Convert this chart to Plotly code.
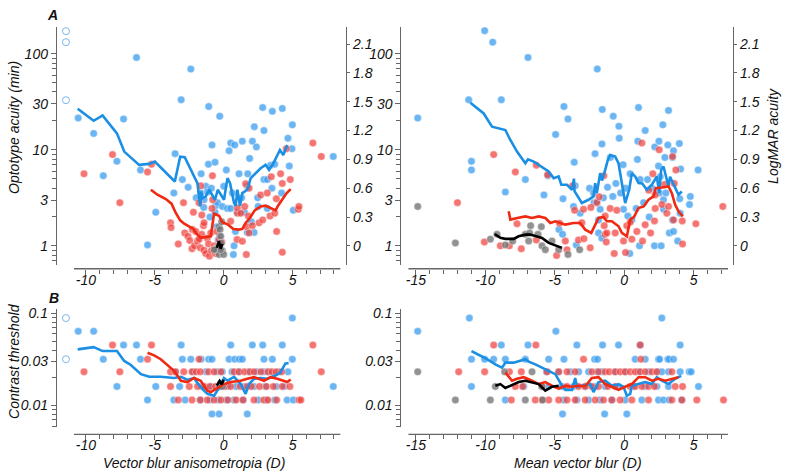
import plotly.graph_objects as go

W, H = 785, 476

# ---------------- data ----------------
# top panels: (blur D, logMAR) ; acuity (min) = 10**logMAR
tl_blue = [(-10.56, 1.33), (-9.44, 1.17), (-8.74, 0.73), (-7.75, 0.88), (-7.27, 1.32), (-6.33, 1.96),
           (-6.04, 0.79), (-5.53, 0.01), (-4.93, 0.35), (-3.62, 0.55), (-3.53, 0.96), (-3.09, 1.52),
           (-3.0, 0.69), (-2.58, 0.61), (-2.39, 1.84), (-2.0, 0.50), (-1.64, 0.75), (-1.67, 0.55),
           (-1.43, 0.48), (-1.45, 0.40), (-1.3, 0.62), (-1.18, 0.56), (-1.11, 0.85), (-1.09, 1.45),
           (-1.0, 0.30), (-0.9, 0.60), (-0.85, 1.05), (-0.63, 0.87), (-0.63, 0.35), (-0.58, 0.42),
           (-0.45, 0.45), (-0.5, 0.20), (-0.4, 0.06), (-0.3, 0.10), (-0.29, 1.35), (-0.1, 0.41),
           (0.0, 0.62), (0.19, 0.79), (0.27, 0.39), (0.39, 0.99), (0.51, 1.07), (0.51, 0.39),
           (0.63, 0.55), (0.7, -0.09), (0.75, 0.0), (0.8, 1.05), (0.85, 0.15), (1.0, 0.35),
           (1.11, 0.75), (1.3, 0.50), (1.35, 1.09), (1.5, 0.35), (1.71, 0.62), (1.71, 0.14),
           (1.74, 0.75), (1.88, 0.91), (2.0, 0.25), (2.08, 1.09), (2.2, 0.14), (2.22, 1.24),
           (2.37, 1.03), (2.46, 0.50), (2.5, 0.41), (2.83, 1.44), (2.92, 1.20), (2.92, 0.69),
           (3.16, 0.69), (3.16, 0.39), (3.41, 0.84), (3.5, 0.60), (3.53, 1.40), (3.7, 0.85),
           (4.2, 0.55), (4.25, 1.43), (4.66, 1.12), (4.76, 0.83), (4.95, 1.01), (4.98, 1.26),
           (5.05, 0.37), (7.95, 0.93)]
tl_red = [(-10.14, 0.75), (-8.07, 0.95), (-7.54, 0.45), (-5.53, 0.77), (-5.24, 0.85), (-3.86, 0.24),
          (-3.82, 0.19), (-3.3, 0.02), (-2.92, 0.45), (-2.83, 0.135), (-2.6, 0.10), (-2.46, 0.055),
          (-2.3, -0.03), (-2.27, 0.17), (-2.2, 0.35), (-2.12, 0.0), (-2.03, 0.15), (-1.9, 0.05),
          (-1.79, 0.45), (-1.79, 0.07), (-1.7, -0.02), (-1.67, 0.625), (-1.6, 0.12), (-1.59, 0.32),
          (-1.47, 0.21), (-1.43, 0.24), (-1.43, -0.045), (-1.3, -0.08), (-1.2, 0.08), (-1.1, 0.02),
          (-1.04, -0.107), (-0.94, 0.135), (-0.9, -0.05), (-0.85, 0.39), (-0.82, 0.73), (-0.8, 0.48),
          (-0.7, 0.0), (-0.6, -0.08), (-0.5, 0.15), (-0.46, -0.04), (-0.34, 0.066), (-0.14, 0.04),
          (0.5, 0.256), (0.99, 0.34), (0.99, 0.394), (0.97, 0.066), (1.23, 0.34), (1.35, 0.048),
          (1.52, 0.41), (1.59, 0.646), (1.64, -0.09), (1.67, 0.20), (1.79, 0.31), (1.84, 0.60),
          (1.84, 0.135), (2.08, 0.21), (2.56, 0.24), (2.68, 0.53), (2.83, 0.27), (3.16, 0.55),
          (3.36, 0.31), (3.45, 0.72), (3.7, 0.34), (3.82, 0.49), (3.84, 0.15), (4.13, 0.75),
          (4.25, 0.65), (4.25, -0.066), (4.54, 1.01), (4.83, 0.69), (5.41, 0.38), (5.46, 0.41),
          (6.47, 1.07), (7.08, 0.93)]
tl_gray = [(-0.34, 0.20), (-0.27, 0.17), (-0.22, 0.10), (-0.17, 0.03), (-0.1, -0.05), (-0.46, -0.02),
           (-0.58, -0.04), (-0.34, -0.09), (0.0, -0.09), (-0.22, -0.04), (-0.7, -0.04), (-0.15, 0.25)]
tl_open = [(-11.45, 2.235), (-11.45, 2.12), (-11.45, 1.516)]

tl_blue_line = [(-10.6, 1.427), (-9.44, 1.302), (-8.79, 1.358), (-7.75, 1.171), (-7.22, 0.981),
                (-6.14, 0.843), (-5.41, 0.853), (-5.0, 0.877), (-3.55, 0.670), (-3.16, 0.929),
                (-2.83, 0.922), (-2.1, 0.705), (-1.91, 0.653), (-1.71, 0.411), (-1.64, 0.566),
                (-1.52, 0.497), (-1.3, 0.515), (-1.06, 0.584), (-0.7, 0.497), (-0.63, 0.48),
                (-0.43, 0.584), (0.02, 0.48), (0.27, 0.705), (0.46, 0.653), (0.75, 0.446),
                (0.87, 0.418), (0.99, 0.584), (1.18, 0.418), (1.35, 0.549), (1.71, 0.584),
                (1.96, 0.705), (2.32, 0.757), (2.68, 0.808), (3.04, 0.843), (3.29, 0.791),
                (3.6, 0.86), (4.08, 0.998), (4.32, 0.946), (4.61, 1.05)]
tl_red_line = [(-5.29, 0.584), (-4.81, 0.532), (-4.2, 0.487), (-3.79, 0.439), (-3.48, 0.342),
               (-3.16, 0.266), (-2.87, 0.231), (-2.58, 0.204), (-2.2, 0.176), (-1.96, 0.124),
               (-1.67, 0.083), (-0.94, 0.10), (-0.7, 0.335), (-0.34, 0.314), (-0.1, 0.245),
               (0.31, 0.221), (0.7, 0.176), (1.11, 0.169), (1.35, 0.176), (1.59, 0.238),
               (1.9, 0.29), (2.25, 0.37), (2.68, 0.411), (3.04, 0.418), (3.4, 0.394),
               (3.77, 0.37), (3.94, 0.418), (4.25, 0.487), (4.57, 0.549), (4.86, 0.591)]
tl_black_line = [(-0.5, -0.02), (-0.35, 0.05), (-0.22, -0.03), (-0.1, 0.02)]

tr_blue = [(-14.87, 1.33), (-11.2, 1.52), (-11.0, 0.88), (-11.0, 0.79), (-10.05, 2.24), (-9.47, 2.12),
           (-8.85, 1.52), (-8.56, 0.56), (-7.12, 0.69), (-6.93, 1.96), (-5.78, 0.53), (-5.49, 0.73),
           (-4.94, 1.16), (-4.7, 0.17), (-4.44, 0.12), (-4.41, 0.49), (-4.34, 1.45), (-4.05, 1.32),
           (-3.65, 0.41), (-3.6, 0.87), (-3.53, 0.625), (-3.45, 0.01), (-3.17, 0.34), (-2.5, 0.60),
           (-2.21, 0.55), (-2.18, 0.45), (-2.1, 0.96), (-1.97, 0.46), (-1.94, 1.84), (-1.85, 0.27),
           (-1.85, 0.135), (-1.73, 0.38), (-1.6, 1.06), (-1.61, 0.08), (-1.58, 1.42), (-1.5, 0.50),
           (-1.2, 0.61), (-1.0, 0.92), (-0.82, 0.515), (-0.79, 1.35), (-0.6, 0.65), (-0.38, 1.245),
           (-0.36, 1.12), (-0.26, 0.55), (-0.08, 0.845), (-0.05, 0.38), (0.1, 0.60), (0.26, 0.31),
           (0.4, -0.08), (0.43, 0.75), (0.55, 0.27), (0.86, 0.39), (0.95, 0.90), (0.98, 1.09),
           (1.03, 1.44), (1.1, 0.0), (1.15, 0.69), (1.4, 0.45), (1.51, 1.2), (1.68, 0.69),
           (1.8, 0.30), (2.0, 0.60), (2.2, 1.03), (2.18, 0.0), (2.5, 1.09), (2.47, 0.83),
           (2.54, 0.55), (2.59, 0.72), (2.66, 0.0), (2.78, 1.26), (2.83, 0.48), (2.83, 0.38),
           (2.93, 0.92), (3.0, 0.55), (3.14, 1.05), (3.19, 1.41), (3.25, 0.135), (3.48, 0.92),
           (3.48, 0.27), (3.55, 0.99), (3.55, 0.15), (3.85, 0.05), (3.97, 1.065), (4.0, 0.49),
           (4.03, 0.34), (4.06, 0.80), (4.7, 0.43), (4.76, 0.515), (5.32, 0.79)]
tr_red = [(-12.01, 0.45), (-10.07, 0.04), (-9.4, 0.95), (-8.92, 0.0), (-8.27, 0.0), (-7.84, 0.77),
          (-7.72, 0.23), (-7.41, -0.03), (-6.33, 0.84), (-6.33, 0.06), (-5.52, 0.74), (-4.87, -0.10),
          (-4.66, 0.235), (-4.24, 0.05), (-4.12, -0.04), (-3.72, 0.625), (-3.57, 0.37), (-3.29, 0.06),
          (-3.05, 0.24), (-2.93, 0.38), (-2.9, 0.075), (-2.45, -0.02), (-2.4, 0.40), (-1.97, 0.45),
          (-1.8, 0.51), (-1.47, 0.73), (-1.44, 0.21), (-1.37, 0.31), (-1.37, 0.12), (-1.29, 0.04),
          (-1.25, 0.135), (-1.01, 0.39), (-0.72, -0.08), (-0.65, 0.135), (-0.53, 0.37), (-0.05, 0.05),
          (0.1, -0.07), (0.19, 0.21), (0.43, 0.245), (0.55, 0.07), (0.91, 0.15), (1.27, 1.07),
          (1.32, 0.05), (1.51, 0.22), (1.77, 0.58), (1.9, 0.135), (2.06, 0.75), (2.18, 0.26),
          (2.23, 0.39), (2.23, 0.53), (2.52, 1.0), (2.71, 0.43), (2.9, 0.64), (3.07, 0.34),
          (3.19, 0.41), (3.48, 0.93), (3.55, 0.27), (3.6, 0.65), (3.72, 0.79), (4.18, 0.26),
          (4.2, 0.02), (5.16, 0.23), (7.1, 0.41)]
tr_gray = [(-14.87, 0.41), (-12.16, 0.03), (-9.64, 0.07), (-9.16, 0.12), (-8.56, 0.01), (-8.03, 0.05),
           (-7.12, 0.12), (-6.81, 0.135), (-6.74, 0.21), (-6.88, 0.05), (-6.21, 0.12), (-5.97, 0.20),
           (-5.92, 0.0), (-5.68, -0.04), (-5.2, 0.05), (-4.72, -0.04), (-4.05, -0.09), (-3.21, -0.04)]

tr_blue_line = [(-11.08, 1.489), (-10.12, 1.378), (-9.52, 1.24), (-9.04, 1.223), (-8.56, 1.206),
                (-8.2, 1.102), (-7.72, 0.981), (-7.12, 0.86), (-6.93, 0.901), (-6.52, 0.877),
                (-5.97, 0.826), (-5.44, 0.774), (-5.08, 0.705), (-4.72, 0.722), (-4.53, 0.636),
                (-4.12, 0.636), (-3.76, 0.584), (-3.62, 0.70), (-3.58, 0.57), (-3.41, 0.532),
                (-3.05, 0.446), (-2.57, 0.48), (-2.21, 0.515), (-2.09, 0.653), (-1.97, 0.55),
                (-1.73, 0.757), (-1.6, 0.68), (-1.37, 0.791), (-1.18, 0.895), (-1.01, 0.946),
                (-0.65, 0.929), (-0.41, 0.86), (-0.17, 0.653), (0.07, 0.446), (0.36, 0.584),
                (0.55, 0.757), (0.8, 0.72), (1.03, 0.653), (1.3, 0.65), (1.63, 0.584),
                (1.99, 0.636), (2.35, 0.722), (2.52, 0.549), (2.66, 0.791), (2.83, 0.826),
                (3.0, 0.72), (3.19, 0.618), (3.3, 0.72), (3.55, 0.64), (3.91, 0.532), (4.15, 0.566)]
tr_red_line = [(-8.32, 0.359), (-8.2, 0.273), (-7.7, 0.29), (-7.12, 0.307), (-6.64, 0.29),
               (-6.16, 0.307), (-5.68, 0.29), (-5.32, 0.238), (-4.96, 0.256), (-4.24, 0.221),
               (-3.65, 0.238), (-3.17, 0.238), (-2.81, 0.169), (-2.37, 0.135), (-1.85, 0.29),
               (-1.5, 0.30), (-1.25, 0.256), (-0.89, 0.256), (-0.41, 0.204), (-0.17, 0.135),
               (0.19, 0.10), (0.43, 0.273), (0.7, 0.30), (1.03, 0.394), (1.4, 0.41),
               (1.75, 0.48), (2.11, 0.515), (2.28, 0.601), (2.71, 0.608), (3.19, 0.618),
               (3.43, 0.549), (3.67, 0.428), (3.91, 0.359), (4.22, 0.307)]
tr_black_line = [(-9.33, 0.124), (-8.92, 0.083), (-8.56, 0.073), (-7.96, 0.073), (-7.6, 0.10),
                 (-7.12, 0.117), (-6.76, 0.117), (-6.28, 0.10), (-5.92, 0.083), (-5.44, 0.031),
                 (-5.08, 0.014), (-4.72, -0.003), (-4.48, -0.021)]

# bottom panels: contrast threshold levels and blur values at each level
bl_blue_rows = [(0.089, [4.98]),
                (0.064, [-10.56, -9.44]),
                (0.0453, [-7.27, -6.33, -3.09, 0.51, 2.08, 2.83, 4.25]),
                (0.0318, [-8.74, -6.04, -3.0, -2.39, -1.64, -1.09, -0.85, 0.39, 0.8, 1.14, 1.35, 2.92, 3.53, 4.98]),
                (0.0232, [-3.5, -2.2, -1.3, -0.5, -0.1, 0.6, 1.1, 1.8, 2.4, 2.9, 3.3, 4.0, 4.66]),
                (0.0161, [-7.75, -4.93, -3.2, -1.6, -0.9, -0.3, 0.3, 0.9, 1.5, 2.2, 3.0, 3.8, 4.4, 7.95]),
                (0.0115, [-5.53, -3.62, -2.8, -1.7, -1.0, -0.4, 0.2, 0.75, 1.4, 2.5, 3.1, 3.7, 4.6, 5.05]),
                (0.0081, [-0.85, -0.34, 1.71])]
bl_red_rows = [(0.0453, [-8.07, -5.24, 6.47]),
               (0.0318, [-5.53, -1.79]),
               (0.0232, [-10.14, -7.54, -3.86, -3.5, -2.9, -2.3, -2.0, -1.7, -1.1, -0.7, -0.2, 0.75, 1.1,
                         1.5, 1.9, 2.2, 2.7, 3.2, 3.5, 3.8, 4.2, 7.08]),
               (0.0161, [-3.86, -2.5, -1.9, -1.4, -1.0, -0.6, 0.1, 0.5, 1.2, 1.7, 2.0, 2.6, 3.1, 3.6, 4.25, 4.8]),
               (0.0115, [-3.3, -2.3, -1.7, -1.2, -0.7, -0.2, 0.3, 0.9, 1.4, 2.2, 2.9, 3.2, 3.84, 5.46, 5.6])]
bl_gray_rows = [(0.0161, [-0.3, -0.1]), (0.0175, [-0.2])]
bl_open = [(-11.45, 0.089), (-11.45, 0.0318)]

bl_blue_line = [(-10.6, 0.0407), (-9.44, 0.043), (-8.79, 0.039), (-7.75, 0.039), (-7.22, 0.0305),
                (-6.74, 0.0276), (-6.01, 0.0219), (-5.41, 0.0205), (-4.57, 0.0205), (-3.6, 0.0199),
                (-3.11, 0.0205), (-2.6, 0.019), (-2.15, 0.0199), (-1.9, 0.0175), (-1.43, 0.0145),
                (-1.18, 0.0134), (-0.7, 0.0128), (-0.46, 0.0145), (-0.17, 0.0171), (0.02, 0.0199),
                (0.27, 0.0186), (0.75, 0.0205), (1.23, 0.0171), (1.59, 0.0134), (1.83, 0.0171),
                (2.2, 0.0195), (2.68, 0.0199), (3.16, 0.0195), (3.75, 0.0212), (4.11, 0.0228),
                (4.47, 0.0285), (4.71, 0.029)]
bl_red_line = [(-5.53, 0.0374), (-5.05, 0.035), (-4.57, 0.0318), (-3.96, 0.0269), (-3.6, 0.0238),
               (-3.11, 0.0186), (-2.63, 0.018), (-2.15, 0.0199), (-1.67, 0.0186), (-1.18, 0.0145),
               (-0.94, 0.014), (-0.46, 0.0155), (0.02, 0.0171), (0.51, 0.018), (1.23, 0.0186),
               (1.71, 0.0195), (2.2, 0.0203), (2.92, 0.0186), (3.4, 0.0203), (3.89, 0.0195),
               (4.25, 0.0186), (4.61, 0.018), (4.86, 0.0192)]
bl_black_line = [(-0.5, 0.0165), (-0.3, 0.0185), (-0.15, 0.017), (0.0, 0.019)]

br_blue_rows = [(0.089, [-11.15, 2.71]),
                (0.064, [-14.87, -4.92]),
                (0.0453, [-8.85, -6.93, -3.41, -1.56, -0.41, 1.15, 4.03]),
                (0.0318, [-11.0, -10.05, -9.4, -8.56, -7.12, -5.44, -4.34, -2.13, -1.92, 0.79, 1.51, 2.47,
                          2.55, 3.14, 3.22, 3.55]),
                (0.0232, [-5.6, -4.72, -3.88, -3.28, -2.56, -1.96, -1.6, -0.65, 0.07, 1.03, 1.75, 2.4,
                          2.71, 3.19, 4.03, 4.68, 4.82]),
                (0.0161, [-11.0, -7.24, -5.44, -4.48, -3.65, -2.81, -2.09, -1.37, -0.41, 0.67, 1.51, 2.35,
                          3.19, 5.35]),
                (0.0115, [-8.56, -4.36, -3.41, -2.57, -1.73, -0.89, 0.07, 1.27, 2.47, 2.83, 3.24, 4.15]),
                (0.0081, [-4.44, -1.41, 0.19])]
br_red_rows = [(0.0453, [-9.4, -6.36, 1.15]),
               (0.0318, [-2.93, 1.2]),
               (0.0232, [-11.92, -10.05, -8.27, -7.41, -5.56, -4.72, -4.12, -3.53, -2.33, -1.85, -1.37,
                         -1.08, -0.65, -0.29, 0.07, 0.43, 0.79, 1.15, 1.51, 1.99, 2.35, 3.43]),
               (0.0161, [-7.84, -7.31, -5.92, -4.12, -3.29, -2.81, -2.33, -1.85, -1.18, -0.65, 0.43, 0.79,
                         1.27, 1.75, 2.18, 3.67, 4.2]),
               (0.0115, [-8.13, -6.4, -5.92, -5.44, -4.72, -4.12, -3.53, -2.81, -2.09, -1.49, -0.89, -0.29,
                         0.55, 1.75, 3.43, 4.15, 5.23, 7.15])]
br_gray_rows = [(0.0232, [-14.87, -8.61, -6.64]),
                (0.0161, [-9.28, -5.92]),
                (0.0115, [-12.16, -9.64, -7.12, -5.88])]

br_blue_line = [(-11.0, 0.039), (-10.0, 0.0326), (-9.28, 0.028), (-8.8, 0.0258), (-8.56, 0.0292),
                (-7.96, 0.0292), (-7.12, 0.0318), (-6.88, 0.030), (-6.4, 0.028), (-5.92, 0.0258),
                (-5.44, 0.0242), (-4.96, 0.0219), (-4.48, 0.0164), (-4.24, 0.0148), (-3.76, 0.0148),
                (-3.53, 0.0199), (-3.4, 0.016), (-2.93, 0.0164), (-2.45, 0.0171), (-2.21, 0.014),
                (-1.85, 0.018), (-1.37, 0.0186), (-0.89, 0.0164), (-0.41, 0.017), (-0.05, 0.016),
                (0.19, 0.0128), (0.43, 0.0134), (0.55, 0.0164), (1.03, 0.0171), (1.51, 0.018),
                (1.99, 0.0171), (2.35, 0.0203), (2.71, 0.0186), (3.19, 0.0171), (3.67, 0.0195),
                (4.1, 0.021)]
br_red_line = [(-8.56, 0.0228), (-8.08, 0.0186), (-7.72, 0.0195), (-7.24, 0.0203), (-6.64, 0.0186),
               (-6.16, 0.0171), (-5.68, 0.018), (-5.2, 0.0164), (-4.72, 0.0153), (-4.24, 0.0164),
               (-3.76, 0.016), (-3.29, 0.0164), (-2.81, 0.0162), (-2.33, 0.0199), (-1.85, 0.0203),
               (-1.37, 0.0171), (-0.89, 0.016), (-0.41, 0.0148), (0.07, 0.016), (0.55, 0.0171),
               (1.03, 0.0203), (1.51, 0.0203), (1.99, 0.0186), (2.47, 0.0195), (2.95, 0.0186),
               (3.43, 0.0195), (3.91, 0.0203)]
br_black_line = [(-9.28, 0.0164), (-8.92, 0.0171), (-8.56, 0.0155), (-7.96, 0.0171), (-7.6, 0.018),
                 (-7.12, 0.0186), (-6.64, 0.018), (-6.16, 0.0171), (-5.68, 0.0145), (-5.2, 0.016),
                 (-4.72, 0.0164)]

# ---------------- styling ----------------
BLUE_PT = "rgba(66,160,240,0.78)"
RED_PT = "rgba(240,64,60,0.72)"
GRAY_PT = "rgba(115,115,115,0.78)"
BLUE_LN = "#1a8fe3"
RED_LN = "#f02a12"
AX = "#666666"
TXT = "#111111"
FONT = "Liberation Sans"


def px(x):
    return x / W


def py(y):
    return 1 - y / H


def unzip(pairs, logy=False):
    xs = [p[0] for p in pairs]
    ys = [10 ** p[1] if logy else p[1] for p in pairs]
    return xs, ys


def rows(rowlist):
    xs, ys = [], []
    for lev, vals in rowlist:
        xs += vals
        ys += [lev] * len(vals)
    return xs, ys


def dots(x, y, color, xa, ya):
    return go.Scatter(x=x, y=y, mode="markers", xaxis=xa, yaxis=ya, cliponaxis=False,
                      marker=dict(size=7.5, color=color, line=dict(width=0.6, color="rgba(255,255,255,0.7)")),
                      showlegend=False, hoverinfo="skip")


def line(x, y, color, xa, ya):
    return go.Scatter(x=x, y=y, mode="lines", xaxis=xa, yaxis=ya, cliponaxis=False,
                      line=dict(color=color, width=2.6), showlegend=False, hoverinfo="skip")


def opens(x, y, xa, ya):
    return go.Scatter(x=x, y=y, mode="markers", xaxis=xa, yaxis=ya, cliponaxis=False,
                      marker=dict(size=7, color="white", line=dict(width=1, color="#7ab8ee")),
                      showlegend=False, hoverinfo="skip")


fig = go.Figure()

# top-left
fig.add_trace(dots(*unzip(tl_blue, True), BLUE_PT, "x", "y"))
fig.add_trace(dots(*unzip(tl_red, True), RED_PT, "x", "y"))
fig.add_trace(dots(*unzip(tl_gray, True), GRAY_PT, "x", "y"))
fig.add_trace(opens(*unzip(tl_open, True), "x", "y"))
fig.add_trace(line(*unzip(tl_blue_line), BLUE_LN, "x", "y5"))
fig.add_trace(line(*unzip(tl_red_line), RED_LN, "x", "y5"))
fig.add_trace(line(*unzip(tl_black_line), "black", "x", "y5"))
# top-right
fig.add_trace(dots(*unzip(tr_blue, True), BLUE_PT, "x2", "y2"))
fig.add_trace(dots(*unzip(tr_red, True), RED_PT, "x2", "y2"))
fig.add_trace(dots(*unzip(tr_gray, True), GRAY_PT, "x2", "y2"))
fig.add_trace(line(*unzip(tr_blue_line), BLUE_LN, "x2", "y6"))
fig.add_trace(line(*unzip(tr_red_line), RED_LN, "x2", "y6"))
fig.add_trace(line(*unzip(tr_black_line), "black", "x2", "y6"))
# bottom-left
fig.add_trace(dots(*rows(bl_blue_rows), BLUE_PT, "x3", "y3"))
fig.add_trace(dots(*rows(bl_red_rows), RED_PT, "x3", "y3"))
fig.add_trace(dots(*rows(bl_gray_rows), GRAY_PT, "x3", "y3"))
fig.add_trace(opens(*unzip(bl_open), "x3", "y3"))
fig.add_trace(line(*unzip(bl_blue_line), BLUE_LN, "x3", "y3"))
fig.add_trace(line(*unzip(bl_red_line), RED_LN, "x3", "y3"))
fig.add_trace(line(*unzip(bl_black_line), "black", "x3", "y3"))
# bottom-right
fig.add_trace(dots(*rows(br_blue_rows), BLUE_PT, "x4", "y4"))
fig.add_trace(dots(*rows(br_red_rows), RED_PT, "x4", "y4"))
fig.add_trace(dots(*rows(br_gray_rows), GRAY_PT, "x4", "y4"))
fig.add_trace(line(*unzip(br_blue_line), BLUE_LN, "x4", "y4"))
fig.add_trace(line(*unzip(br_red_line), RED_LN, "x4", "y4"))
fig.add_trace(line(*unzip(br_black_line), "black", "x4", "y4"))

tickfont = dict(family=FONT, size=14, color=TXT, style="italic")


def xaxis(dom, rng, ypos, majors, minors):
    return dict(domain=[px(dom[0]), px(dom[1])], range=rng, anchor="free", position=py(ypos),
                showline=False, showgrid=False, zeroline=False, ticks="outside", ticklen=5,
                tickwidth=1, tickcolor=AX, tickmode="array", tickvals=majors,
                ticktext=[str(v) for v in majors], tickfont=tickfont, ticklabelstandoff=-7,
                minor=dict(ticks="outside", ticklen=4, tickwidth=1, tickcolor=AX,
                           tickmode="array", tickvals=minors, showgrid=False))


def logy(dom, rng, xpos, majors, labels, minors):
    return dict(type="log", domain=[py(dom[1]), py(dom[0])], range=rng, anchor="free",
                position=px(xpos), showline=True, linecolor=AX, linewidth=1.3, showgrid=False,
                zeroline=False, ticks="outside", ticklen=5, tickwidth=1, tickcolor=AX,
                tickmode="array", tickvals=majors, ticktext=labels, tickfont=tickfont,
                minor=dict(ticks="outside", ticklen=4, tickwidth=1, tickcolor=AX,
                           tickmode="array", tickvals=minors, showgrid=False))


acu_major = [1, 3, 10, 30, 100]
acu_minor = [0.7, 0.8, 0.9, 2, 4, 5, 6, 7, 8, 9, 20, 40, 50, 60, 70, 80, 90, 200]
con_major = [0.01, 0.03, 0.1]
con_minor = [0.006, 0.007, 0.008, 0.009, 0.02, 0.04, 0.05, 0.06, 0.07, 0.08, 0.09]
mar_major = [0, 0.3, 0.6, 0.9, 1.2, 1.5, 1.8, 2.1]

top_rng = [-0.197, 2.28]
bot_rng = [-2.237, -0.957]
left_x = [-11.96, 8.48]
right_x = [-15.68, 7.48]

fig.update_layout(
    width=W, height=H, margin=dict(l=0, r=0, t=0, b=0),
    paper_bgcolor="white", plot_bgcolor="white",
    xaxis=xaxis((58, 340), left_x, 267, [-10, -5, 0, 5], list(range(-10, 9))),
    xaxis2=xaxis((406, 728), right_x, 267, [-15, -10, -5, 0, 5], list(range(-15, 8))),
    xaxis3=xaxis((58, 340), left_x, 434, [-10, -5, 0, 5], list(range(-10, 9))),
    xaxis4=xaxis((406, 728), right_x, 434, [-15, -10, -5, 0, 5], list(range(-15, 8))),
    yaxis=logy((23, 263), top_rng, 55, acu_major, [str(v) for v in acu_major], acu_minor),
    yaxis2=logy((23, 263), top_rng, 400, acu_major, [str(v) for v in acu_major], acu_minor),
    yaxis3=logy((308, 427), bot_rng, 55, con_major, ["0.01", "0.03", "0.1"], con_minor),
    yaxis4=logy((308, 427), bot_rng, 400, con_major, ["0.01", "0.03", "0.1"], con_minor),
    yaxis5=dict(overlaying="y", side="right", anchor="free", position=px(345.5), range=top_rng,
                showline=True, linecolor=AX, linewidth=1.3, showgrid=False, zeroline=False,
                ticks="outside", ticklen=3, tickcolor=AX, tickmode="array", tickvals=mar_major,
                ticktext=[f"{v:g}" for v in mar_major], tickfont=tickfont),
    yaxis6=dict(overlaying="y2", side="right", anchor="free", position=px(733), range=top_rng,
                showline=True, linecolor=AX, linewidth=1.3, showgrid=False, zeroline=False,
                ticks="outside", ticklen=3, tickcolor=AX, tickmode="array", tickvals=mar_major,
                ticktext=[f"{v:g}" for v in mar_major], tickfont=tickfont),
)

# detached x-axis lines
for xr, ya, rng in [("x", 267, (-10.87, 8.48)), ("x2", 267, (-15.54, 7.48)),
                    ("x3", 434, (-10.87, 8.48)), ("x4", 434, (-15.54, 7.48))]:
    fig.add_shape(type="line", xref=xr, yref="paper", x0=rng[0], x1=rng[1], y0=py(ya), y1=py(ya),
                  line=dict(color=AX, width=1.3))

ann_font = dict(family=FONT, size=14, color=TXT, style="italic")
annotations = [
    dict(text="<b>A</b>", x=px(52), y=py(11), font=ann_font),
    dict(text="<b>B</b>", x=px(53), y=py(296), font=ann_font),
    dict(text="Optotype acuity (min)", x=px(13), y=py(124), textangle=-90, font=ann_font),
    dict(text="LogMAR acuity", x=px(773), y=py(133), textangle=-90, font=ann_font),
    dict(text="Contrast threshold", x=px(13), y=py(360), textangle=-90, font=ann_font),
    dict(text="Vector blur anisometropia (D)", x=px(193), y=py(463), font=ann_font),
    dict(text="Mean vector blur (D)", x=px(578), y=py(463), font=ann_font),
]
for a in annotations:
    fig.add_annotation(xref="paper", yref="paper", showarrow=False, xanchor="center",
                       yanchor="middle", **a)

# page body margin would shift the fixed-size figure; drop it
fig.write_html("out.html", config={"displayModeBar": False},
               post_script="document.body.style.margin='0px';")
